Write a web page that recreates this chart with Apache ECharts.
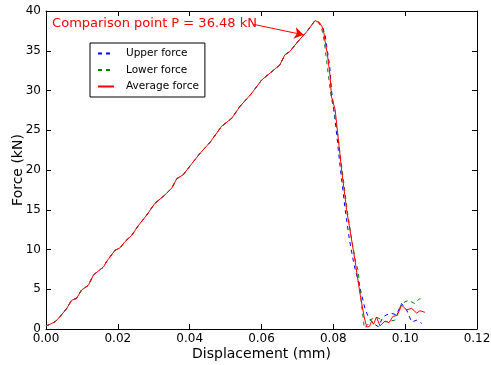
<!DOCTYPE html>
<html>
<head>
<meta charset="utf-8">
<script src="https://cdn.jsdelivr.net/npm/echarts@6/dist/echarts.min.js"></script>
<style>html,body{margin:0;padding:0;background:#fff}#c{width:491px;height:365px}</style>
</head>
<body>
<div id="c"></div>
<script>
// Shared loading branch (all three curves coincide)
const riseDisp = [0, 0.0007, 0.0025, 0.0039, 0.0058, 0.0071, 0.0085, 0.0099, 0.0118, 0.0132, 0.0160, 0.0169, 0.0192, 0.0206, 0.0220, 0.0239, 0.0257, 0.0280, 0.0303, 0.0327, 0.0350, 0.0364, 0.0382, 0.0406, 0.0429, 0.0457, 0.0489, 0.0517, 0.0540, 0.0568, 0.0577, 0.0600, 0.0624, 0.0651, 0.0665, 0.0679, 0.0702];
const riseForce = [0.4, 0.5, 0.9, 1.55, 2.6, 3.6, 3.85, 4.9, 5.5, 6.8, 7.8, 8.5, 9.9, 10.2, 11.0, 11.8, 13.0, 14.3, 15.8, 16.7, 17.7, 18.9, 19.4, 20.8, 22.1, 23.5, 25.5, 26.5, 28.0, 29.4, 29.9, 31.3, 32.2, 33.2, 34.5, 34.9, 36.2];

// Post-peak branches
const upperDisp = [0.0726, 0.0749, 0.0760, 0.0770, 0.0777, 0.0782, 0.0790, 0.0795, 0.0802, 0.0808, 0.0820, 0.0833, 0.0845, 0.0858, 0.0865, 0.0879, 0.0888, 0.0897, 0.0911, 0.0925, 0.0939, 0.0958, 0.0976, 0.0990, 0.1004, 0.1018, 0.1032, 0.1046];
const upperForce = [37.4, 38.8, 38.6, 38.0, 37.0, 35.5, 33.0, 30.0, 27.5, 25.0, 20.0, 15.0, 11.2, 8.0, 6.8, 4.3, 2.6, 1.55, 0.7, 0.3, 1.55, 2.0, 1.8, 3.2, 2.4, 0.9, 1.1, 0.7];

const lowerDisp = [0.0726, 0.0749, 0.0758, 0.0766, 0.0772, 0.0778, 0.0786, 0.0793, 0.0803, 0.0812, 0.0826, 0.0840, 0.0852, 0.0862, 0.0869, 0.0879, 0.0884, 0.0886, 0.0895, 0.0905, 0.0920, 0.0944, 0.0971, 0.0990, 0.1009, 0.1027, 0.1041, 0.1050];
const lowerForce = [37.4, 38.8, 38.6, 38.0, 37.0, 35.0, 32.0, 29.5, 27.0, 24.5, 19.5, 14.5, 11.0, 8.5, 7.4, 2.8, 1.1, 0.1, 0.5, 1.2, 1.5, 0.9, 1.1, 3.2, 3.6, 3.2, 3.85, 3.5];

const avgDisp = [0.0726, 0.0749, 0.0758, 0.0768, 0.0774, 0.0777, 0.0783, 0.0791, 0.0795, 0.0805, 0.0810, 0.0823, 0.0837, 0.0860, 0.0874, 0.0886, 0.0893, 0.0900, 0.0907, 0.0912, 0.0920, 0.0930, 0.0944, 0.0955, 0.0966, 0.0978, 0.0990, 0.1004, 0.1018, 0.1032, 0.1041, 0.1055];
const avgForce = [37.4, 38.8, 38.6, 38.1, 37.2, 36.2, 34.7, 31.8, 29.2, 27.6, 25.5, 20.0, 15.0, 8.7, 4.5, 1.5, 0.25, 0.3, 1.0, 0.6, 1.5, 0.4, 1.0, 0.8, 1.6, 1.7, 3.0, 2.4, 2.6, 2.0, 2.3, 2.1];

const xTicks = {min: 0, max: 0.12, step: 0.02};
const yTicks = {min: 0, max: 40, step: 5};
const annotationText = 'Comparison point P = 36.48 kN';
const annotationTextAt = [0.0017, 38.4];
const arrowFrom = [0.0580, 38.3];
const arrowTo = [0.0717, 37.0];

function pairs(d1, f1, d2, f2) {
  const out = [];
  for (let i = 0; i < d1.length; i++) out.push([d1[i], f1[i]]);
  for (let i = 0; i < d2.length; i++) out.push([d2[i], f2[i]]);
  return out;
}

const FONT = 'DejaVu Sans';
const chart = echarts.init(document.getElementById('c'), null, {renderer: 'canvas'});
const tickCommon = {show: true, inside: true, length: 5, lineStyle: {color: '#000', width: 1}};
const lineCommon = {show: true, onZero: false, lineStyle: {color: '#000', width: 1}};

chart.setOption({
  animation: false,
  backgroundColor: '#fff',
  textStyle: {fontFamily: FONT},
  grid: {left: 46, right: 14, top: 11, bottom: 36, containLabel: false, outerBoundsMode: 'none'},
  legend: {
    left: 90, top: 43,
    orient: 'vertical',
    backgroundColor: '#fff',
    borderColor: '#000', borderWidth: 1, borderRadius: 0,
    padding: [5, 6, 5, 7],
    itemWidth: 16, itemHeight: 10, itemGap: 5.5,
    itemStyle: {opacity: 0},
    textStyle: {fontFamily: FONT, fontSize: 10.5, color: '#000', padding: [0, 0, 0, 7]},
    data: ['Upper force', 'Lower force', 'Average force']
  },
  xAxis: [{
    type: 'value', min: xTicks.min, max: xTicks.max, interval: xTicks.step,
    name: 'Displacement (mm)', nameLocation: 'middle', nameGap: 18, nameMoveOverlap: false,
    nameTextStyle: {fontFamily: FONT, fontSize: 14, color: '#000'},
    axisLine: lineCommon, axisTick: tickCommon,
    axisLabel: {fontFamily: FONT, fontSize: 12, color: '#000', margin: 4, formatter: v => v.toFixed(2)},
    splitLine: {show: false}
  }, {
    type: 'value', position: 'top', min: xTicks.min, max: xTicks.max, interval: xTicks.step,
    axisLine: lineCommon, axisTick: tickCommon, axisLabel: {show: false}, splitLine: {show: false}
  }],
  yAxis: [{
    type: 'value', min: yTicks.min, max: yTicks.max, interval: yTicks.step,
    name: 'Force (kN)', nameLocation: 'middle', nameGap: 21, nameMoveOverlap: false,
    nameTextStyle: {fontFamily: FONT, fontSize: 14, color: '#000'},
    axisLine: lineCommon, axisTick: tickCommon,
    axisLabel: {fontFamily: FONT, fontSize: 12, color: '#000', margin: 5},
    splitLine: {show: false}
  }, {
    type: 'value', position: 'right', min: yTicks.min, max: yTicks.max, interval: yTicks.step,
    axisLine: lineCommon, axisTick: tickCommon, axisLabel: {show: false}, splitLine: {show: false}
  }],
  series: [{
    name: 'Upper force', type: 'line', symbol: 'none', z: 2,
    data: pairs(riseDisp, riseForce, upperDisp, upperForce),
    itemStyle: {color: '#0000ff'},
    lineStyle: {color: '#0000ff', width: 1, type: [4, 4]}
  }, {
    name: 'Lower force', type: 'line', symbol: 'none', z: 3,
    data: pairs(riseDisp, riseForce, lowerDisp, lowerForce),
    itemStyle: {color: '#008000'},
    lineStyle: {color: '#008000', width: 1, type: [4, 4]}
  }, {
    name: 'Average force', type: 'line', symbol: 'none', z: 4,
    data: pairs(riseDisp, riseForce, avgDisp, avgForce),
    itemStyle: {color: '#ff0000'},
    lineStyle: {color: '#ff0000', width: 1},
    markPoint: {
      silent: true,
      symbol: 'circle', symbolSize: 0,
      data: [{
        coord: annotationTextAt,
        label: {show: true, position: 'right', distance: 0, formatter: annotationText,
                color: '#ff0000', fontFamily: FONT, fontSize: 13}
      }]
    },
    markLine: {
      silent: true,
      symbol: ['none', 'arrow'], symbolSize: 9,
      label: {show: false},
      lineStyle: {color: '#ff0000', width: 1, type: 'solid'},
      data: [[{coord: arrowFrom}, {coord: arrowTo}]]
    }
  }]
});
</script>
</body>
</html>
